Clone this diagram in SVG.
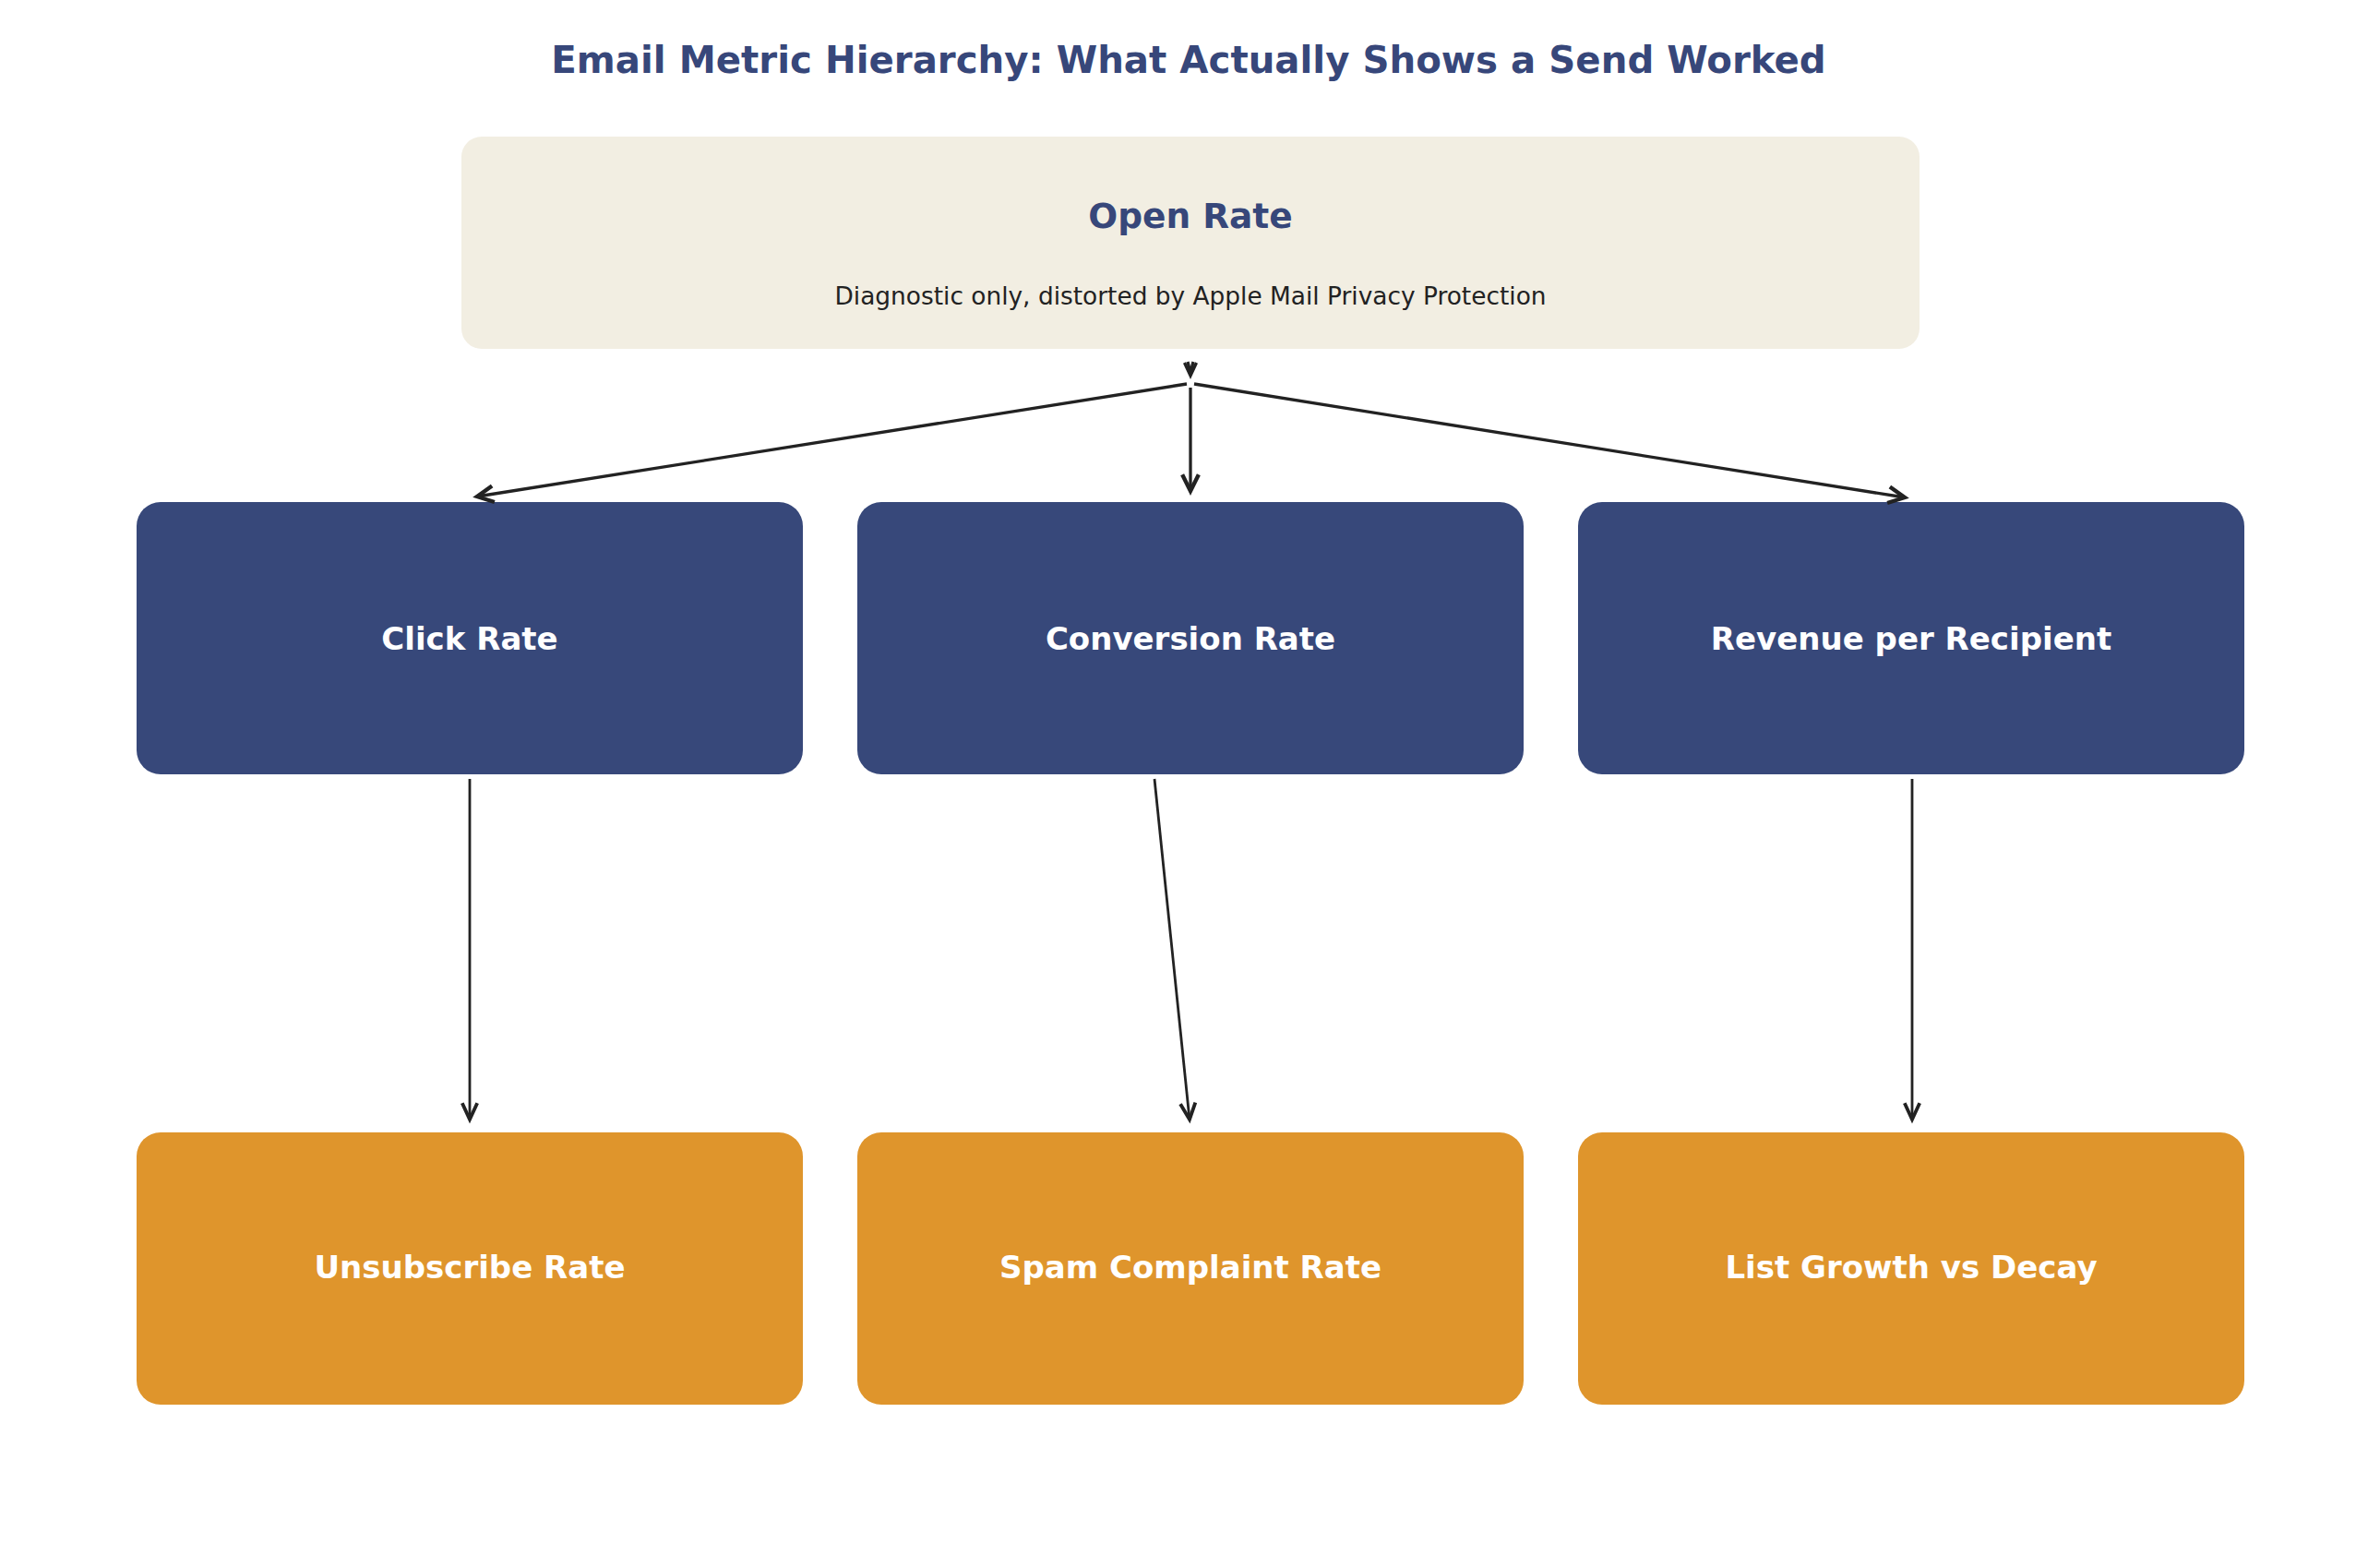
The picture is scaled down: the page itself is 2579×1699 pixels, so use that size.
<svg xmlns="http://www.w3.org/2000/svg" width="2579" height="1699" viewBox="0 0 2579 1699">
<defs>
<style>
text{font-family:"DejaVu Sans","Liberation Sans",sans-serif;text-anchor:middle}
.title{font-size:40.3px;font-weight:bold;fill:#37477A}
.top{fill:#F2EEE2}
.navy{fill:#37487A}
.orange{fill:#DF952C}
.h1{font-size:37.5px;font-weight:bold;fill:#37477A}
.sub{font-size:26.4px;fill:#222222}
.lbl{font-size:34px;font-weight:bold;fill:#FFFFFF}
.edge{fill:none;stroke:#222222;stroke-width:3.3}
.edge2{fill:none;stroke:#222222;stroke-width:2.8}
.head{fill:none;stroke:#222222;stroke-width:3.3;stroke-linejoin:miter}
</style>
<marker id="arr" markerUnits="userSpaceOnUse" markerWidth="30" markerHeight="30" viewBox="-18 -10 22 20" refX="0" refY="0" orient="auto">
<path d="M-13,-6.5 L0,0 L-13,6.5" fill="none" stroke="#222222" stroke-width="3.2"/>
</marker>
<marker id="arr2" markerUnits="userSpaceOnUse" markerWidth="30" markerHeight="30" viewBox="-18 -10 22 20" refX="0" refY="0" orient="auto">
<path d="M-13,-6 L0,0 L-13,6" fill="none" stroke="#222222" stroke-width="2.8"/>
</marker>
</defs>
<rect width="2579" height="1699" fill="#FFFFFF"/>
<text class="title" x="1288" y="79">Email Metric Hierarchy: What Actually Shows a Send Worked</text>

<g id="open-rate">
<rect class="top" x="500" y="148" width="1580" height="230" rx="22"/>
<text class="h1" x="1290" y="247">Open Rate</text>
<text class="sub" x="1290" y="330">Diagnostic only, distorted by Apple Mail Privacy Protection</text>
</g>

<g id="click-rate">
<rect class="navy" x="148" y="544" width="722" height="295" rx="26"/>
<text class="lbl" x="509" y="704">Click Rate</text>
</g>
<g id="conversion-rate">
<rect class="navy" x="929" y="544" width="722" height="295" rx="26"/>
<text class="lbl" x="1290" y="704">Conversion Rate</text>
</g>
<g id="revenue-per-recipient">
<rect class="navy" x="1710" y="544" width="722" height="295" rx="26"/>
<text class="lbl" x="2071" y="704">Revenue per Recipient</text>
</g>

<g id="unsubscribe-rate">
<rect class="orange" x="148" y="1227" width="722" height="295" rx="26"/>
<text class="lbl" x="509" y="1385">Unsubscribe Rate</text>
</g>
<g id="spam-complaint-rate">
<rect class="orange" x="929" y="1227" width="722" height="295" rx="26"/>
<text class="lbl" x="1290" y="1385">Spam Complaint Rate</text>
</g>
<g id="list-growth-vs-decay">
<rect class="orange" x="1710" y="1227" width="722" height="295" rx="26"/>
<text class="lbl" x="2071" y="1385">List Growth vs Decay</text>
</g>

<g id="connectors">
<path class="head" d="M1283.5,393 L1290,407 L1296.5,393"/>
<path class="head" d="M1287,392 L1290,404 L1293,392"/>
<path class="edge" d="M1286,416 L517,538" marker-end="url(#arr)"/>
<path class="edge" d="M1290,420 L1290,532" marker-end="url(#arr)"/>
<path class="edge" d="M1294,416 L2064,539" marker-end="url(#arr)"/>
<path class="edge2" d="M509,844 L509,1213" marker-end="url(#arr2)"/>
<path class="edge2" d="M1251,844 L1289,1213" marker-end="url(#arr2)"/>
<path class="edge2" d="M2072,844 L2072,1213" marker-end="url(#arr2)"/>
</g>
</svg>
